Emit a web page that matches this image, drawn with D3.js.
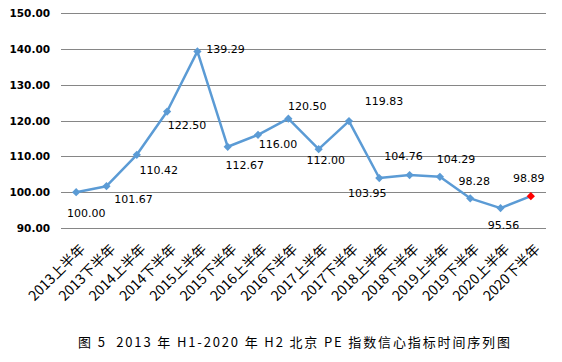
<!DOCTYPE html>
<html>
<head>
<meta charset="utf-8">
<script src="https://cdn.jsdelivr.net/npm/d3@7"></script>
<style>
    body { margin: 0; background: #fff; }
    svg { display: block; }
</style>
</head>
<body>
<svg id="chart" width="562" height="362"></svg>
<script>
// half-year periods
const periods = [
    '2013上半年', '2013下半年', '2014上半年', '2014下半年',
    '2015上半年', '2015下半年', '2016上半年', '2016下半年',
    '2017上半年', '2017下半年', '2018上半年', '2018下半年',
    '2019上半年', '2019下半年', '2020上半年', '2020下半年',
];
const peIndex = [
    100.00, 101.67, 110.42, 122.50, 139.29, 112.67, 116.00, 120.50,
    112.00, 119.83, 103.95, 104.76, 104.29, 98.28, 95.56, 98.89,
];
const yTicks = [90, 100, 110, 120, 130, 140, 150];
const caption = '图 5  2013 年 H1-2020 年 H2 北京 PE 指数信心指标时间序列图';

// where each value label sits relative to its marker (dx, dy of baseline centre)
const labelNudge = [
    [10, 25], [27, 17], [22, 19], [20, 17], [28, 2], [17, 22], [20, 13], [19, -9],
    [7, 15], [35, -16], [-12, 19], [-6, -15], [16, -14], [4, -13], [3, 21], [-2, -14],
];

const svg = d3.select('#chart');
const plotLeft = 61, plotRight = 546, plotTop = 13, plotBottom = 228;

const x = d3.scalePoint().domain(periods).range([plotLeft, plotRight]).padding(0.5);
const y = d3.scaleLinear().domain([90, 150]).range([plotBottom, plotTop]);

// gridlines
svg.append('g')
    .selectAll('line')
    .data(yTicks)
    .join('line')
    .attr('x1', plotLeft)
    .attr('x2', plotRight)
    .attr('y1', (d) => Math.round(y(d)) + 0.5)
    .attr('y2', (d) => Math.round(y(d)) + 0.5)
    .attr('stroke', '#868686')
    .attr('stroke-width', 1);

// y labels
svg.append('g')
    .selectAll('text')
    .data(yTicks)
    .join('text')
    .attr('x', 50)
    .attr('y', (d) => y(d) + 4)
    .attr('text-anchor', 'end')
    .style('font-family', 'DejaVu Sans')
    .style('font-weight', 'bold')
    .style('font-size', '10.5px')
    .attr('fill', '#000')
    .text((d) => d.toFixed(2));

// x labels, rotated
svg.append('g')
    .selectAll('text')
    .data(periods)
    .join('text')
    .attr('transform', (d) => `translate(${ x(d) + 10 }, ${ plotBottom + 22 }) rotate(-45)`)
    .attr('text-anchor', 'end')
    .style('font-family', 'Noto Sans CJK SC')
    .style('font-size', '14px')
    .attr('fill', '#000')
    .text((d) => d);

// line
const line = d3.line()
    .x((d, i) => x(periods[i]))
    .y((d) => y(d));

svg.append('path')
    .datum(peIndex)
    .attr('d', line)
    .attr('fill', 'none')
    .attr('stroke', '#5B9BD5')
    .attr('stroke-width', 2.5)
    .attr('stroke-linejoin', 'round');

// markers
const diamond = d3.symbol().type(d3.symbolSquare).size(34);
svg.append('g')
    .selectAll('path')
    .data(peIndex)
    .join('path')
    .attr('d', diamond)
    .attr('transform', (d, i) => `translate(${ x(periods[i]) }, ${ y(d) }) rotate(45)`)
    .attr('fill', (d, i) => (i === peIndex.length - 1 ? '#FF0000' : '#5B9BD5'));

// value labels
svg.append('g')
    .selectAll('text')
    .data(peIndex)
    .join('text')
    .attr('x', (d, i) => x(periods[i]) + labelNudge[i][0])
    .attr('y', (d, i) => y(d) + labelNudge[i][1])
    .attr('text-anchor', 'middle')
    .style('font-family', 'DejaVu Sans')
    .style('font-size', '11px')
    .attr('fill', '#000')
    .text((d) => d.toFixed(2));

// caption
svg.append('text')
    .attr('x', 78)
    .attr('y', 347)
    .attr('textLength', 432)
    .attr('lengthAdjust', 'spacing')
    .style('font-family', 'Noto Sans CJK SC')
    .style('font-size', '13px')
    .style('white-space', 'pre')
    .attr('fill', '#000')
    .text(caption);
</script>
</body>
</html>
